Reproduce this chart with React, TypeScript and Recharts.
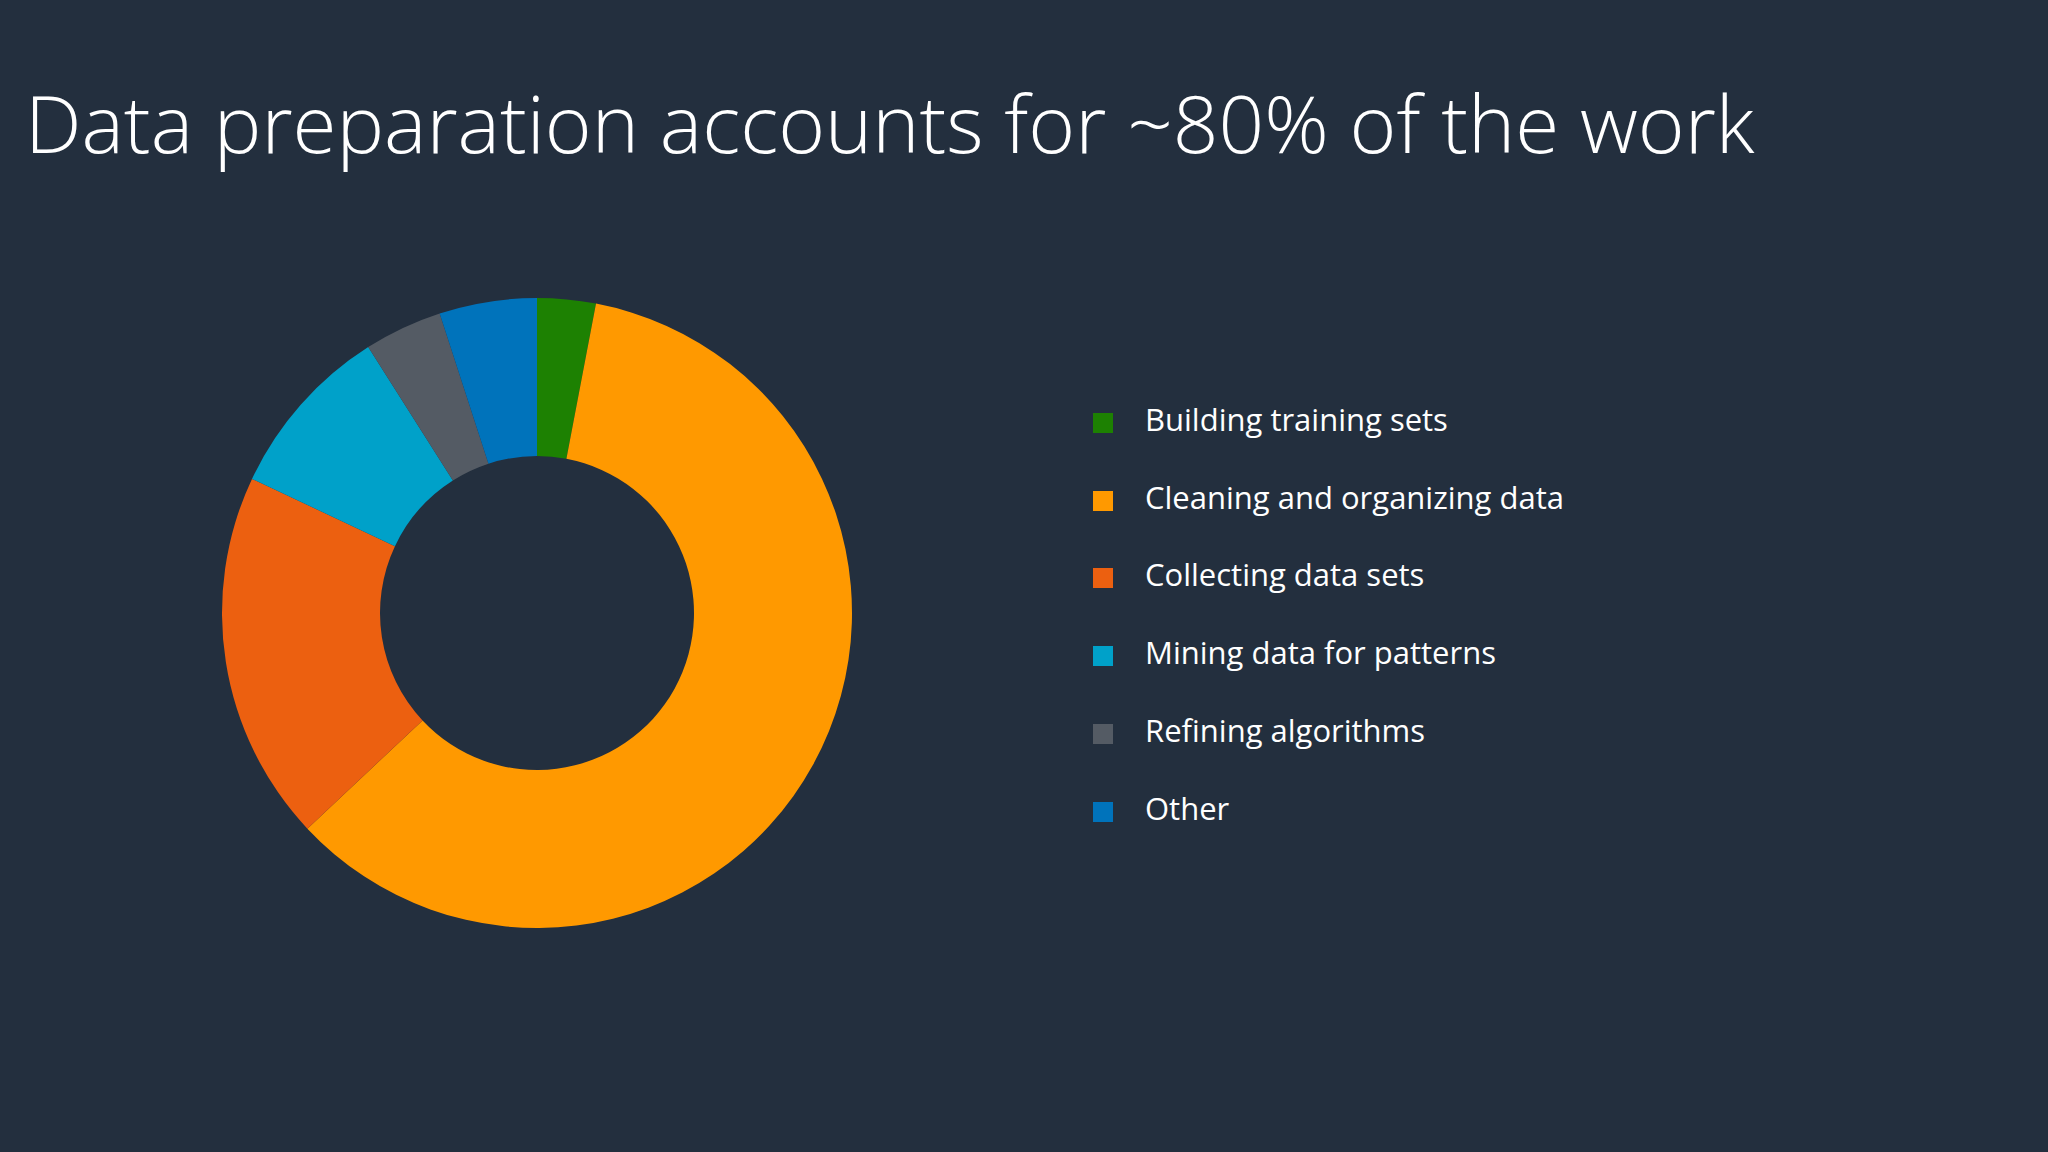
import React from "react";
import { PieChart, Pie, Cell, Legend } from "recharts";

const categories = [
  "Building training sets",
  "Cleaning and organizing data",
  "Collecting data sets",
  "Mining data for patterns",
  "Refining algorithms",
  "Other",
];
const shares = [3, 60, 19, 9, 4, 5];
const colors = ["#1d8102", "#ff9900", "#ec6010", "#00a1c9", "#545b64", "#0073bb"];
const title = "Data preparation accounts for ~80% of the work";

const data = categories.map((name, i) => ({ name, value: shares[i] }));

const BG = "#232f3e";

const renderLegend = (props: any) => {
  const payload: any[] = props.payload || [];
  const ordered = categories
    .map((c) => payload.find((p: any) => p.value === c))
    .filter(Boolean);
  return (
    <div style={{ position: "relative" }}>
      {ordered.map((entry: any, i: number) => (
        <div
          key={i}
          style={{
            display: "flex",
            alignItems: "center",
            height: 77.8,
          }}
        >
          <div
            style={{
              width: 20,
              height: 20,
              background: entry.color,
              marginRight: 32,
              flex: "none",
            }}
          />
          <span
            style={{
              color: "#ffffff",
              fontFamily: "'Open Sans', 'Noto Sans', sans-serif",
              fontSize: 31,
              position: "relative",
              top: -4,
              whiteSpace: "nowrap",
            }}
          >
            {entry.value}
          </span>
        </div>
      ))}
    </div>
  );
};

export default function App() {
  return (
    <div
      style={{
        position: "fixed",
        left: 0,
        top: 0,
        width: 2048,
        height: 1152,
        background: BG,
        overflow: "hidden",
      }}
    >
      <div
        style={{
          position: "absolute",
          left: 25,
          top: 62,
          color: "#ffffff",
          fontFamily: "'Open Sans', 'Noto Sans', sans-serif",
          fontWeight: 300,
          fontSize: 80,
          lineHeight: "120px",
          whiteSpace: "nowrap",
        }}
      >
        {title}
      </div>
      <div style={{ position: "absolute", left: 0, top: 0 }}>
        <PieChart width={2048} height={1152} margin={{ top: 0, right: 0, bottom: 0, left: 0 }}>
          <Pie
            data={data}
            dataKey="value"
            nameKey="name"
            cx={537}
            cy={613}
            innerRadius={157}
            outerRadius={315}
            startAngle={90}
            endAngle={-270}
            stroke="none"
            isAnimationActive={false}
          >
            {data.map((d, i) => (
              <Cell key={d.name} fill={colors[i]} />
            ))}
          </Pie>
          <Legend
            layout="vertical"
            verticalAlign="middle"
            align="right"
            content={renderLegend}
            wrapperStyle={{ left: 1093, top: 384, right: "auto", width: 600 }}
          />
        </PieChart>
      </div>
    </div>
  );
}
